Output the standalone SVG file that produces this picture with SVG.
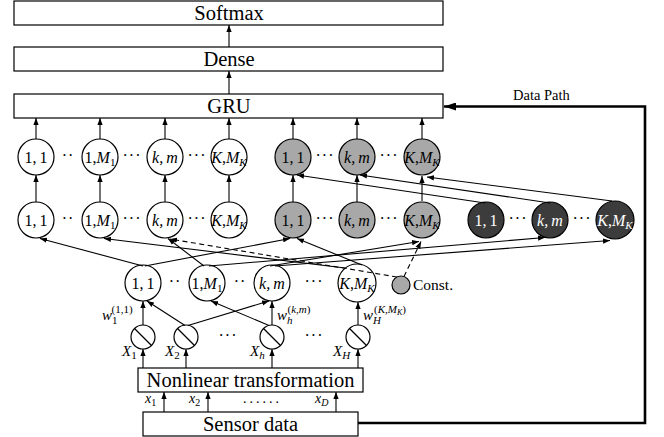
<svg xmlns="http://www.w3.org/2000/svg" width="664" height="437" viewBox="0 0 664 437">
  <style>
    text { font-family: "Liberation Serif", "Times New Roman", serif; fill: #000; }
    .box { fill: #fff; stroke: #000; stroke-width: 1.2; }
    .boxlbl { font-size: 20.5px; text-anchor: middle; }
    .node { fill: #fff; stroke: #000; stroke-width: 1.2; }
    .gray { fill: #a8a8a8; }
    .dark { fill: #3c3c3c; }
    .nlbl { font-size: 16px; text-anchor: middle; }
    .wht { fill: #fff; }
    .it { font-style: italic; }
    .dots { font-size: 16px; text-anchor: middle; letter-spacing: 1px; }
    .edge { stroke: #000; stroke-width: 1.1; fill: none; marker-end: url(#ah); }
    .dash { stroke-dasharray: 5 3.5; }
    .wc { fill: #fff; stroke: #000; stroke-width: 1.2; }
    .sym { font-size: 15px; }
    .small { font-size: 11px; }
  </style>
  <defs>
    <marker id="ah" viewBox="0 0 8 6" refX="8" refY="3" markerWidth="7" markerHeight="5.5" markerUnits="userSpaceOnUse" orient="auto">
      <path d="M0,0 L8,3 L0,6 z" fill="#000"/>
    </marker>
    <marker id="ahBig" viewBox="0 0 12 8" refX="12" refY="4" markerWidth="13" markerHeight="8" markerUnits="userSpaceOnUse" orient="auto">
      <path d="M0,0 L12,4 L0,8 z" fill="#000"/>
    </marker>
  </defs>

  <!-- output stack -->
  <g id="softmax">
    <rect class="box" x="14" y="1" width="429" height="24"/>
    <text class="boxlbl" x="229" y="19.5">Softmax</text>
  </g>
  <g id="dense">
    <rect class="box" x="14" y="47" width="429" height="24"/>
    <text class="boxlbl" x="229" y="66">Dense</text>
  </g>
  <g id="gru">
    <rect class="box" x="14" y="94" width="429" height="24"/>
    <text class="boxlbl" x="229" y="113">GRU</text>
  </g>

  <!-- upper node row -->
  <g id="top-1-1"><circle class="node" cx="36" cy="157" r="18"/><text class="nlbl" x="36" y="162.5">1,&#8201;1</text></g>
  <g id="top-1-M1"><circle class="node" cx="100" cy="157" r="18"/><text class="nlbl" x="100" y="162.5">1,<tspan class="it">M</tspan><tspan font-size="11" dy="3">1</tspan></text></g>
  <g id="top-k-m"><circle class="node" cx="165" cy="157" r="18"/><text class="nlbl it" x="165" y="162.5">k,&#8201;m</text></g>
  <g id="top-K-MK"><circle class="node" cx="229" cy="157" r="18"/><text class="nlbl" x="229" y="162.5"><tspan class="it">K</tspan>,<tspan class="it">M</tspan><tspan class="it" font-size="11" dy="3">K</tspan></text></g>
  <g id="top-g-1-1"><circle class="node gray" cx="293" cy="157" r="18"/><text class="nlbl" x="293" y="162.5">1,&#8201;1</text></g>
  <g id="top-g-k-m"><circle class="node gray" cx="357" cy="157" r="18"/><text class="nlbl it" x="357" y="162.5">k,&#8201;m</text></g>
  <g id="top-g-K-MK"><circle class="node gray" cx="422" cy="157" r="18"/><text class="nlbl" x="422" y="162.5"><tspan class="it">K</tspan>,<tspan class="it">M</tspan><tspan class="it" font-size="11" dy="3">K</tspan></text></g>
  <g id="top-dots">
    <text class="dots" x="68" y="161">··</text>
    <text class="dots" x="132" y="161">···</text>
    <text class="dots" x="197" y="161">···</text>
    <text class="dots" x="325" y="161">···</text>
    <text class="dots" x="389" y="161">···</text>
  </g>

  <!-- middle node row -->
  <g id="mid-1-1"><circle class="node" cx="36" cy="220" r="18"/><text class="nlbl" x="36" y="225.5">1,&#8201;1</text></g>
  <g id="mid-1-M1"><circle class="node" cx="100" cy="220" r="18"/><text class="nlbl" x="100" y="225.5">1,<tspan class="it">M</tspan><tspan font-size="11" dy="3">1</tspan></text></g>
  <g id="mid-k-m"><circle class="node" cx="165" cy="220" r="18"/><text class="nlbl it" x="165" y="225.5">k,&#8201;m</text></g>
  <g id="mid-K-MK"><circle class="node" cx="229" cy="220" r="18"/><text class="nlbl" x="229" y="225.5"><tspan class="it">K</tspan>,<tspan class="it">M</tspan><tspan class="it" font-size="11" dy="3">K</tspan></text></g>
  <g id="mid-g-1-1"><circle class="node gray" cx="293" cy="220" r="18"/><text class="nlbl" x="293" y="225.5">1,&#8201;1</text></g>
  <g id="mid-g-k-m"><circle class="node gray" cx="357" cy="220" r="18"/><text class="nlbl it" x="357" y="225.5">k,&#8201;m</text></g>
  <g id="mid-g-K-MK"><circle class="node gray" cx="422" cy="220" r="18"/><text class="nlbl" x="422" y="225.5"><tspan class="it">K</tspan>,<tspan class="it">M</tspan><tspan class="it" font-size="11" dy="3">K</tspan></text></g>
  <g id="mid-d-1-1"><circle class="node dark" cx="486" cy="220" r="18"/><text class="nlbl wht" x="486" y="225.5">1,&#8201;1</text></g>
  <g id="mid-d-k-m"><circle class="node dark" cx="550" cy="220" r="18"/><text class="nlbl it wht" x="550" y="225.5">k,&#8201;m</text></g>
  <g id="mid-d-K-MK"><circle class="node dark" cx="615" cy="220" r="19"/><text class="nlbl wht" x="615" y="225.5"><tspan class="it">K</tspan>,<tspan class="it">M</tspan><tspan class="it" font-size="11" dy="3">K</tspan></text></g>
  <g id="mid-dots">
    <text class="dots" x="68" y="224">··</text>
    <text class="dots" x="132" y="224">···</text>
    <text class="dots" x="197" y="224">···</text>
    <text class="dots" x="325" y="224">···</text>
    <text class="dots" x="389" y="224">···</text>
    <text class="dots" x="518" y="224">···</text>
    <text class="dots" x="582" y="224">···</text>
  </g>

  <!-- lower node row -->
  <g id="low-1-1"><circle class="node" cx="143" cy="283" r="18"/><text class="nlbl" x="143" y="288.5">1,&#8201;1</text></g>
  <g id="low-1-M1"><circle class="node" cx="207" cy="283" r="18"/><text class="nlbl" x="207" y="288.5">1,<tspan class="it">M</tspan><tspan font-size="11" dy="3">1</tspan></text></g>
  <g id="low-k-m"><circle class="node" cx="272" cy="283" r="18"/><text class="nlbl it" x="272" y="288.5">k,&#8201;m</text></g>
  <g id="low-K-MK"><circle class="node" cx="357" cy="283" r="19"/><text class="nlbl" x="357" y="288.5"><tspan class="it">K</tspan>,<tspan class="it">M</tspan><tspan class="it" font-size="11" dy="3">K</tspan></text></g>
  <g id="const"><circle class="node gray" cx="401" cy="285" r="9"/><text x="413" y="290" font-size="15.5">Const.</text></g>
  <g id="low-dots">
    <text class="dots" x="175" y="287">··</text>
    <text class="dots" x="240" y="287">··</text>
    <text class="dots" x="314" y="287">···</text>
  </g>

  <!-- weight units -->
  <g id="w-1"><circle class="wc" cx="143" cy="337" r="12"/><line x1="134.5" y1="328.5" x2="151.5" y2="345.5" stroke="#000" stroke-width="1.2"/></g>
  <g id="w-2"><circle class="wc" cx="186" cy="337" r="12"/><line x1="177.5" y1="328.5" x2="194.5" y2="345.5" stroke="#000" stroke-width="1.2"/></g>
  <g id="w-h"><circle class="wc" cx="272" cy="337" r="12"/><line x1="263.5" y1="328.5" x2="280.5" y2="345.5" stroke="#000" stroke-width="1.2"/></g>
  <g id="w-H"><circle class="wc" cx="358" cy="337" r="12"/><line x1="349.5" y1="328.5" x2="366.5" y2="345.5" stroke="#000" stroke-width="1.2"/></g>
  <g id="w-dots">
    <text class="dots" x="228" y="341">···</text>
    <text class="dots" x="314" y="341">···</text>
  </g>
  <g id="w-labels">
    <text class="sym" x="102" y="320"><tspan class="it">w</tspan><tspan class="small" dy="4">1</tspan><tspan class="small" dx="-6" dy="-11">(1,1)</tspan></text>
    <text class="sym" x="277" y="320"><tspan class="it">w</tspan><tspan class="small it" dy="4">h</tspan><tspan class="small" dx="-5" dy="-11">(<tspan class="it">k</tspan>,<tspan class="it">m</tspan>)</tspan></text>
    <text class="sym" x="363" y="320"><tspan class="it">w</tspan><tspan class="small it" dy="4">H</tspan><tspan class="small" dx="-7" dy="-11">(<tspan class="it">K</tspan>,<tspan class="it">M</tspan><tspan font-size="8" class="it" dy="2">K</tspan><tspan dy="-2">)</tspan></tspan></text>
  </g>

  <!-- transformation and input -->
  <g id="nonlinear">
    <rect class="box" x="138" y="368" width="225" height="24"/>
    <text class="boxlbl" x="250.5" y="387">Nonlinear transformation</text>
  </g>
  <g id="sensor">
    <rect class="box" x="143" y="412" width="215" height="24"/>
    <text class="boxlbl" x="250.5" y="431">Sensor data</text>
  </g>
  <g id="x-labels">
    <text class="sym" x="122" y="356"><tspan class="it">X</tspan><tspan class="small" dy="3">1</tspan></text>
    <text class="sym" x="165" y="356"><tspan class="it">X</tspan><tspan class="small" dy="3">2</tspan></text>
    <text class="sym" x="250" y="356"><tspan class="it">X</tspan><tspan class="small it" dy="3">h</tspan></text>
    <text class="sym" x="333" y="356"><tspan class="it">X</tspan><tspan class="small it" dy="3">H</tspan></text>
    <text font-size="14" x="145" y="403"><tspan class="it">x</tspan><tspan font-size="10" dy="3">1</tspan></text>
    <text font-size="14" x="189" y="403"><tspan class="it">x</tspan><tspan font-size="10" dy="3">2</tspan></text>
    <text font-size="14" x="243" y="403" letter-spacing="3">......</text>
    <text font-size="14" x="315" y="403"><tspan class="it">x</tspan><tspan font-size="10" class="it" dy="3">D</tspan></text>
  </g>
  <text id="data-path-label" x="513" y="100" font-size="14.5">Data Path</text>

  <!-- connectors -->
  <g id="connectors">
    <line class="edge" x1="229" y1="47" x2="229" y2="25"/>
    <line class="edge" x1="229" y1="94" x2="229" y2="71"/>
    <!-- upper row to GRU -->
    <line class="edge" x1="36" y1="139" x2="36" y2="118"/>
    <line class="edge" x1="100" y1="139" x2="100" y2="118"/>
    <line class="edge" x1="165" y1="139" x2="165" y2="118"/>
    <line class="edge" x1="229" y1="139" x2="229" y2="118"/>
    <line class="edge" x1="293" y1="139" x2="293" y2="118"/>
    <line class="edge" x1="357" y1="139" x2="357" y2="118"/>
    <line class="edge" x1="422" y1="139" x2="422" y2="118"/>
    <!-- middle row to upper row -->
    <line class="edge" x1="36" y1="202" x2="36" y2="175"/>
    <line class="edge" x1="100" y1="202" x2="100" y2="175"/>
    <line class="edge" x1="165" y1="202" x2="165" y2="175"/>
    <line class="edge" x1="229" y1="202" x2="229" y2="175"/>
    <line class="edge" x1="293" y1="202" x2="293" y2="175"/>
    <line class="edge" x1="357" y1="202" x2="357" y2="175"/>
    <line class="edge" x1="422" y1="201" x2="422" y2="176"/>
    <line class="edge" x1="485" y1="203" x2="297" y2="175"/>
    <line class="edge" x1="550" y1="203" x2="360" y2="175"/>
    <line class="edge" x1="612" y1="201" x2="427" y2="177"/>
    <!-- lower row to middle row -->
    <line class="edge" x1="143" y1="266" x2="40" y2="238.5"/>
    <line class="edge" x1="145" y1="266" x2="290" y2="238.5"/>
    <line class="edge" x1="204" y1="266" x2="168" y2="238.5"/>
    <line class="edge" x1="209" y1="266" x2="545" y2="237.5"/>
    <line class="edge" x1="270" y1="266" x2="419" y2="241.5"/>
    <line class="edge" x1="275" y1="266" x2="610" y2="240.5"/>
    <line class="edge" x1="362" y1="265" x2="297" y2="238.5"/>
    <line class="edge" x1="345" y1="268" x2="104" y2="238.5"/>
    <line class="edge dash" x1="397" y1="277" x2="170" y2="239"/>
    <line class="edge dash" x1="404" y1="276.5" x2="421" y2="241.5"/>
    <!-- weights to lower row -->
    <line class="edge" x1="143" y1="325" x2="143" y2="301"/>
    <line class="edge" x1="185" y1="325.5" x2="147" y2="301"/>
    <line class="edge" x1="188" y1="325.5" x2="269" y2="301"/>
    <line class="edge" x1="272" y1="325" x2="272" y2="301"/>
    <line class="edge" x1="269" y1="325.5" x2="211" y2="301"/>
    <line class="edge" x1="358" y1="325" x2="358" y2="302"/>
    <!-- transformation outputs to weights -->
    <line class="edge" x1="143" y1="368" x2="143" y2="349"/>
    <line class="edge" x1="186" y1="368" x2="186" y2="349"/>
    <line class="edge" x1="272" y1="368" x2="272" y2="349"/>
    <line class="edge" x1="358" y1="368" x2="358" y2="349"/>
    <!-- sensor to transformation -->
    <line class="edge" x1="164" y1="412" x2="164" y2="392"/>
    <line class="edge" x1="208" y1="412" x2="208" y2="392"/>
    <line class="edge" x1="336" y1="412" x2="336" y2="392"/>
    <!-- data path -->
    <polyline points="358,423 645,423 645,106.5 444,106.5" fill="none" stroke="#000" stroke-width="2.6" marker-end="url(#ahBig)"/>
  </g>
</svg>
